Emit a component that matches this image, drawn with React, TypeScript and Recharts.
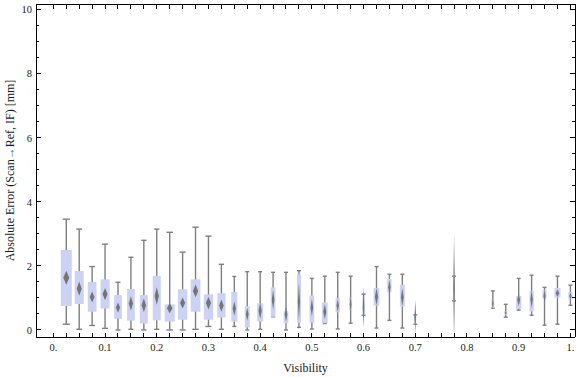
import React from 'react';
import { ComposedChart, Bar, XAxis, YAxis, Label } from 'recharts';

// ---- data ----
const visibility = [0.025, 0.05, 0.075, 0.1, 0.125, 0.15, 0.175, 0.2, 0.225, 0.25, 0.275, 0.3, 0.325, 0.35, 0.375, 0.4, 0.425, 0.45, 0.475, 0.5, 0.525, 0.55, 0.575, 0.6, 0.625, 0.65, 0.675, 0.7, 0.775, 0.85, 0.875, 0.9, 0.925, 0.95, 0.975, 1.0];
const whiskerHigh = [3.46, 3.15, 1.98, 2.68, 1.49, 2.27, 2.80, 3.15, 3.05, 2.43, 3.21, 2.93, 2.05, 1.67, 1.82, 1.82, 1.80, 1.80, 1.85, 1.61, 1.68, 1.80, 1.68, 1.12, 1.98, 1.74, 1.74, 0.47, 1.68, 1.22, 0.80, 1.61, 1.71, 1.33, 1.68, 1.40];
const q3 = [2.50, 1.84, 1.50, 1.58, 1.09, 1.28, 1.09, 1.69, 0.80, 1.27, 1.58, 1.11, 1.15, 1.19, 0.74, 0.83, 1.33, 0.59, 1.74, 1.08, 0.86, 0.99, 1.02, 1.05, 1.31, 1.59, 1.41, 0.46, 1.68, 0.97, 0.59, 1.06, 1.22, 1.25, 1.31, 1.19];
const center = [1.63, 1.29, 1.03, 1.12, 0.70, 0.83, 0.77, 1.06, 0.68, 0.84, 1.22, 0.84, 0.76, 0.67, 0.49, 0.60, 0.94, 0.49, 0.89, 0.70, 0.57, 0.76, 0.80, 0.71, 1.04, 1.33, 1.02, 0.42, 1.30, 0.83, 0.53, 0.94, 0.96, 1.06, 1.15, 1.06];
const q1 = [0.75, 0.81, 0.57, 0.67, 0.35, 0.29, 0.20, 0.30, 0.26, 0.32, 0.57, 0.32, 0.39, 0.26, 0.08, 0.27, 0.41, 0.21, 0.23, 0.23, 0.21, 0.55, 0.60, 0.46, 0.76, 1.17, 0.73, 0.18, 0.91, 0.68, 0.47, 0.66, 0.58, 0.98, 1.01, 0.96];
const whiskerLow = [0.18, 0.02, 0.14, 0.05, 0.00, 0.02, 0.00, 0.02, 0.00, 0.00, 0.02, 0.11, 0.02, 0.11, 0.00, 0.02, 0.41, 0.00, 0.08, 0.03, 0.20, 0.03, 0.21, 0.46, 0.06, 0.30, 0.06, 0.18, 0.91, 0.68, 0.40, 0.62, 0.46, 0.15, 0.18, 0.77];
const confHalf = [0.22, 0.22, 0.17, 0.19, 0.16, 0.22, 0.22, 0.27, 0.16, 0.17, 0.20, 0.20, 0.19, 0.23, 0.20, 0.25, 0.31, 0.23, 0.58, 0.27, 0.23, 0.19, 0.27, 0.63, 0.27, 0.23, 0.28, 0.50, 1.70, 0.20, 0.06, 0.19, 0.28, 0.20, 0.12, 0.11];
const binWeight = [1.0, 0.82, 0.79, 0.82, 0.70, 0.70, 0.73, 0.73, 0.91, 0.85, 0.88, 0.85, 0.75, 0.55, 0.45, 0.55, 0.43, 0.43, 0.36, 0.43, 0.52, 0.39, 0.27, 0.18, 0.52, 0.39, 0.45, 0.18, 0.18, 0.25, 0.27, 0.48, 0.39, 0.36, 0.55, 0.36];

const xLabelTicks = [0, 0.1, 0.2, 0.3, 0.4, 0.5, 0.6, 0.7, 0.8, 0.9, 1.0];
const xLabels = ['0.', '0.1', '0.2', '0.3', '0.4', '0.5', '0.6', '0.7', '0.8', '0.9', '1.'];
const yLabelTicks = [0, 2, 4, 6, 8, 10];
const yLabels = ['0', '2', '4', '6', '8', '10'];
const xTicks = Array.from({ length: 41 }, (_, i) => Math.round(i * 25) / 1000);
const yTicks = Array.from({ length: 21 }, (_, i) => i * 0.5);

const data = visibility.map((x, i) => ({
  x,
  wh: whiskerHigh[i],
  q3: q3[i],
  c: center[i],
  q1: q1[i],
  wl: whiskerLow[i],
  ci: confHalf[i],
  w: binWeight[i],
  lo: Math.min(whiskerLow[i], center[i] - confHalf[i]),
  hi: Math.max(whiskerHigh[i], center[i] + confHalf[i]),
}));

const FONT = '"Liberation Serif", "DejaVu Serif", serif';
const TXT = '#1a1a1a';
const BOX = '#cbd2f4';
const WHISK = '#7f7f7f';
const DIAM = '#747474';
const AXIS_LINE = { stroke: '#000', strokeWidth: 1, shapeRendering: 'crispEdges' } as any;

const near = (a: number, b: number) => Math.abs(a - b) < 1e-6;

const BoxShape = (props: any) => {
  const { x, y, width, height, payload } = props;
  if (payload == null || !isFinite(y) || !isFinite(height)) return null;
  const { hi, lo } = payload;
  const py = (v: number) => y + ((hi - v) / (hi - lo)) * height;
  const cx = x + width / 2;
  const bw = payload.w * width;
  const cap = Math.max(4, 0.65 * bw);
  const dw = Math.max(1.6, 0.55 * bw);
  const yWH = py(payload.wh), yWL = py(payload.wl), yQ3 = py(payload.q3), yQ1 = py(payload.q1);
  const yC = py(payload.c), yCt = py(payload.c + payload.ci), yCb = py(payload.c - payload.ci);
  return (
    <g>
      <line x1={cx} x2={cx} y1={yWH} y2={yWL} stroke={WHISK} strokeWidth={1.4} />
      <line x1={cx - cap / 2} x2={cx + cap / 2} y1={yWH} y2={yWH} stroke={WHISK} strokeWidth={1.4} />
      <line x1={cx - cap / 2} x2={cx + cap / 2} y1={yWL} y2={yWL} stroke={WHISK} strokeWidth={1.4} />
      <rect x={cx - bw / 2} y={yQ3} width={bw} height={Math.max(0.5, yQ1 - yQ3)} fill={BOX} />
      <polygon
        points={`${cx},${yCt} ${cx + dw / 2},${yC} ${cx},${yCb} ${cx - dw / 2},${yC}`}
        fill={DIAM}
        filter="url(#soft)"
      />
    </g>
  );
};

const BottomTick = (props: any) => {
  const { x, y, payload } = props;
  const idx = xLabelTicks.findIndex((t) => near(t, payload.value));
  return (
    <g>
      <line x1={x} x2={x} y1={y} y2={y - 4} stroke="#000" strokeWidth={1} shapeRendering="crispEdges" />
      {idx >= 0 && (
        <text x={x} y={y + 13.5} textAnchor="middle" fontFamily={FONT} fontSize={10.5} fill={TXT}>
          {xLabels[idx]}
        </text>
      )}
    </g>
  );
};

const TopTick = (props: any) => {
  const { x, y } = props;
  return <line x1={x} x2={x} y1={y} y2={y + 5} stroke="#000" strokeWidth={1} shapeRendering="crispEdges" />;
};

const LeftTick = (props: any) => {
  const { x, y, payload } = props;
  const idx = yLabelTicks.findIndex((t) => near(t, payload.value));
  const major = idx >= 0;
  return (
    <g>
      <line x1={x} x2={x + (major ? 5 : 3)} y1={y} y2={y} stroke="#000" strokeWidth={1} shapeRendering="crispEdges" />
      {major && (
        <text x={x - 4} y={y} dy="0.35em" textAnchor="end" fontFamily={FONT} fontSize={10.5} fill={TXT}>
          {yLabels[idx]}
        </text>
      )}
    </g>
  );
};

const RightTick = (props: any) => {
  const { x, y, payload } = props;
  const major = yLabelTicks.some((t) => near(t, payload.value));
  return <line x1={x} x2={x - (major ? 5 : 3)} y1={y} y2={y} stroke="#000" strokeWidth={1} shapeRendering="crispEdges" />;
};

export default function App() {
  return (
    <div style={{ position: 'absolute', left: 0, top: 0, width: 576, height: 377, background: '#fff' }}>
      <ComposedChart
        width={576}
        height={377}
        data={data}
        margin={{ top: 3, right: 0, bottom: 39, left: 35 }}
      >
        <defs>
          <filter id="soft" x="-50%" y="-20%" width="200%" height="140%">
            <feGaussianBlur stdDeviation="0.5" />
          </filter>
        </defs>
        <XAxis
          xAxisId="b"
          dataKey="x"
          type="number"
          domain={[-0.0335, 1.009]}
          allowDataOverflow
          ticks={xTicks}
          interval={0}
          tickSize={0}
          tickMargin={0}
          tickLine={false}
          height={1}
          axisLine={AXIS_LINE}
          tick={<BottomTick />}
        >
          <Label
            content={(p: any) => {
              const vb = p.viewBox || { x: 36, y: 337, width: 539 };
              return (
                <text x={vb.x + vb.width / 2} y={vb.y + 35} textAnchor="middle" fontFamily={FONT} fontSize={12} fill={TXT}>
                  Visibility
                </text>
              );
            }}
          />
        </XAxis>
        <XAxis
          xAxisId="t"
          orientation="top"
          dataKey="x"
          type="number"
          domain={[-0.0335, 1.009]}
          allowDataOverflow
          ticks={xTicks}
          interval={0}
          tickSize={0}
          tickMargin={0}
          tickLine={false}
          height={1}
          axisLine={AXIS_LINE}
          tick={<TopTick />}
        />
        <YAxis
          yAxisId="l"
          type="number"
          domain={[-0.22, 10.18]}
          allowDataOverflow
          ticks={yTicks}
          interval={0}
          tickSize={0}
          tickMargin={0}
          tickLine={false}
          width={1}
          axisLine={AXIS_LINE}
          tick={<LeftTick />}
        >
          <Label
            content={(p: any) => {
              const vb = p.viewBox || { x: 35, y: 4, width: 1, height: 333 };
              const cx = vb.x + vb.width - 22;
              const cy = vb.y + vb.height / 2;
              return (
                <text x={cx} y={cy} textAnchor="middle" fontFamily={FONT} fontSize={12} fill={TXT} transform={`rotate(-90 ${cx} ${cy})`}>
                  Absolute Error (Scan<tspan fill="#2d5fb0">→</tspan>Ref, IF) [mm]
                </text>
              );
            }}
          />
        </YAxis>
        <YAxis
          yAxisId="r"
          orientation="right"
          type="number"
          domain={[-0.22, 10.18]}
          allowDataOverflow
          ticks={yTicks}
          interval={0}
          tickSize={0}
          tickMargin={0}
          tickLine={false}
          width={1}
          axisLine={AXIS_LINE}
          tick={<RightTick />}
        />
        <Bar
          xAxisId="b"
          yAxisId="l"
          dataKey={(d: any) => [d.lo, d.hi]}
          barSize={11}
          shape={<BoxShape />}
          isAnimationActive={false}
        />
      </ComposedChart>
    </div>
  );
}
